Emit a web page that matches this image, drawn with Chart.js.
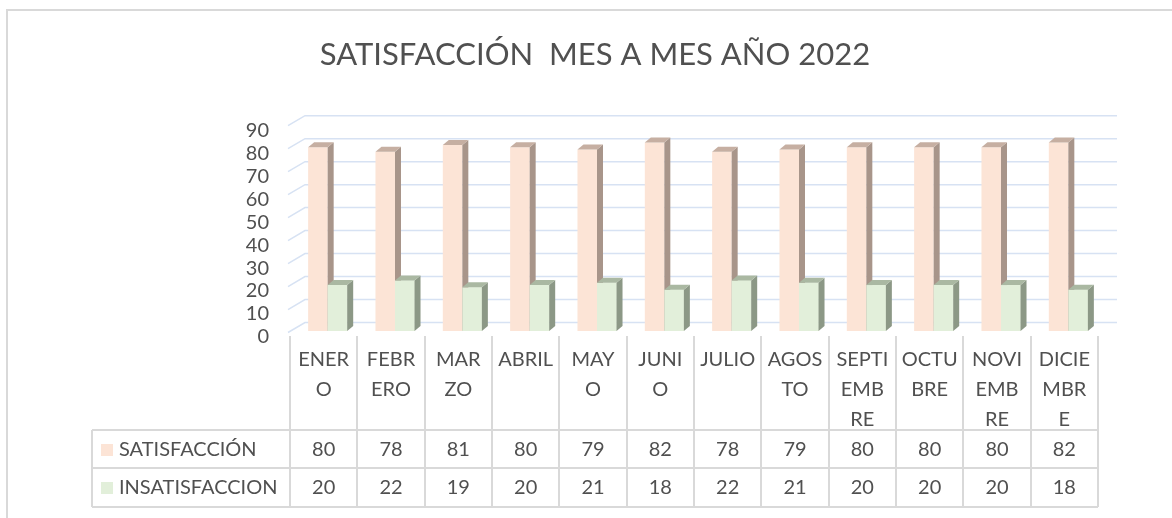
<!DOCTYPE html>
<html>
<head>
<meta charset="utf-8">
<script src="https://cdn.jsdelivr.net/npm/chart.js@4/dist/chart.umd.min.js"></script>
<style>
  html, body { margin: 0; padding: 0; background: #fff; }
  #wrap { width: 1172px; height: 518px; position: relative; }
</style>
</head>
<body>
<div id="wrap"><canvas id="chart"></canvas></div>
<script>
// meses, partidos en lineas como en la tabla de datos
const months = [
    ['ENER', 'O'], ['FEBR', 'ERO'], ['MAR', 'ZO'], ['ABRIL'], ['MAY', 'O'], ['JUNI', 'O'],
    ['JULIO'], ['AGOS', 'TO'], ['SEPTI', 'EMB', 'RE'], ['OCTU', 'BRE'], ['NOVI', 'EMB', 'RE'], ['DICIE', 'MBR', 'E']
];
const satisfaccion = [80, 78, 81, 80, 79, 82, 78, 79, 80, 80, 80, 82];
const insatisfaccion = [20, 22, 19, 20, 21, 18, 22, 21, 20, 20, 20, 18];
const yTicks = [0, 10, 20, 30, 40, 50, 60, 70, 80, 90];

const textColor = '#505050';
const lineGray = '#D9D9D9';
const gridBlue = '#D7E2F3';
const font = 'Lato, "Open Sans", sans-serif';

const faces = [
    { front: '#FCE4D6', side: '#A8958A', top: '#C6AFA2' },
    { front: '#E2EFDA', side: '#8C9886', top: '#AAB8A2' }
];

const barShift = 4;  // las barras van algo a la derecha del centro de la columna
const depthX = 6, depthY = 5;

function drawBox(ctx, bar, f) {
    const l = bar.x - bar.width / 2, r = bar.x + bar.width / 2;
    ctx.fillStyle = f.side;
    ctx.beginPath();
    ctx.moveTo(r, bar.y);
    ctx.lineTo(r + depthX, bar.y - depthY);
    ctx.lineTo(r + depthX, bar.base - depthY);
    ctx.lineTo(r, bar.base);
    ctx.closePath();
    ctx.fill();
    ctx.fillStyle = f.top;
    ctx.beginPath();
    ctx.moveTo(l, bar.y);
    ctx.lineTo(l + depthX, bar.y - depthY);
    ctx.lineTo(r + depthX, bar.y - depthY);
    ctx.lineTo(r, bar.y);
    ctx.closePath();
    ctx.fill();
}

const excel3d = {
    id: 'excel3d',
    beforeDraw(chart) {
        const ctx = chart.ctx;
        const area = chart.chartArea;
        const y = chart.scales.y;
        ctx.save();
        // marco exterior
        ctx.strokeStyle = lineGray;
        ctx.lineWidth = 2;
        ctx.beginPath();
        ctx.moveTo(7, 518);
        ctx.lineTo(7, 10);
        ctx.lineTo(1172, 10);
        ctx.stroke();
        // pared del fondo + pared lateral
        ctx.strokeStyle = gridBlue;
        ctx.lineWidth = 1.5;
        yTicks.forEach(v => {
            const py = y.getPixelForValue(v);
            ctx.beginPath();
            ctx.moveTo(area.left - 2, py + 1.5);
            ctx.lineTo(area.left + 15, py - 8.5);
            ctx.lineTo(area.right + 19, py - 8.5);
            ctx.stroke();
        });
        ctx.restore();
    },
    beforeDatasetsDraw(chart) {
        chart.ctx.save();
        chart.ctx.translate(barShift, 0);
    },
    afterDatasetsDraw(chart) {
        const ctx = chart.ctx;
        const m0 = chart.getDatasetMeta(0);
        const m1 = chart.getDatasetMeta(1);
        m0.data.forEach(bar => drawBox(ctx, bar, faces[0]));
        m1.data.forEach(bar => {
            bar.draw(ctx);
            drawBox(ctx, bar, faces[1]);
        });
        ctx.restore();
    },
    afterDraw(chart) {
        const ctx = chart.ctx;
        const x = chart.scales.x;
        const colW = (x.right - x.left) / months.length;
        const tableLeft = 92;
        const top = 336, row1 = 430, row2 = 468, bottom = 507;
        ctx.save();
        ctx.strokeStyle = lineGray;
        ctx.lineWidth = 2;
        for (let i = 0; i <= months.length; i++) {
            const px = Math.round(x.left + i * colW);
            ctx.beginPath();
            ctx.moveTo(px, top);
            ctx.lineTo(px, bottom);
            ctx.stroke();
        }
        [row1, row2, bottom].forEach(py => {
            ctx.beginPath();
            ctx.moveTo(tableLeft, py);
            ctx.lineTo(x.right, py);
            ctx.stroke();
        });
        ctx.beginPath();
        ctx.moveTo(tableLeft, row1);
        ctx.lineTo(tableLeft, bottom);
        ctx.stroke();

        ctx.fillStyle = textColor;
        ctx.font = '20px ' + font;
        ctx.textAlign = 'center';
        ctx.textBaseline = 'middle';
        months.forEach((lines, i) => {
            const cx = x.getPixelForValue(i);
            lines.forEach((t, k) => ctx.fillText(t, cx, 360 + k * 30));
            ctx.fillText(String(satisfaccion[i]), cx, 450);
            ctx.fillText(String(insatisfaccion[i]), cx, 488);
        });

        const names = chart.data.datasets.map(d => d.label);
        [450, 488].forEach((py, k) => {
            ctx.fillStyle = faces[k].front;
            ctx.fillRect(101, py - 6, 12, 12);
            ctx.fillStyle = textColor;
            ctx.textAlign = 'left';
            ctx.fillText(names[k], 119, py);
        });
        ctx.restore();
    }
};

new Chart(document.getElementById('chart'), {
    type: 'bar',
    data: {
        labels: months,
        datasets: [
            {
                label: 'SATISFACCIÓN',
                data: satisfaccion,
                backgroundColor: faces[0].front,
                barPercentage: 1,
                categoryPercentage: 0.58
            },
            {
                label: 'INSATISFACCION',
                data: insatisfaccion,
                backgroundColor: faces[1].front,
                barPercentage: 1,
                categoryPercentage: 0.58
            }
        ]
    },
    options: {
        responsive: true,
        maintainAspectRatio: false,
        animation: false,
        layout: { padding: { top: 10, left: 92, right: 74, bottom: 187 } },
        scales: {
            x: { display: false },
            y: {
                min: 0,
                max: 90,
                afterFit: scale => { scale.width = 198; },
                afterBuildTicks: scale => { scale.ticks = yTicks.map(v => ({ value: v })); },
                grid: { display: false },
                border: { display: false },
                ticks: {
                    color: textColor,
                    font: { family: font, size: 20 },
                    padding: 13,
                    labelOffset: 6,
                    autoSkip: false
                }
            }
        },
        plugins: {
            legend: { display: false },
            tooltip: { enabled: false },
            title: {
                display: true,
                text: 'SATISFACCIÓN  MES A MES AÑO 2022',
                color: textColor,
                font: { family: font, size: 31, weight: 'normal' },
                padding: { top: 26, bottom: 51 }
            }
        }
    },
    plugins: [excel3d]
});
</script>
</body>
</html>
